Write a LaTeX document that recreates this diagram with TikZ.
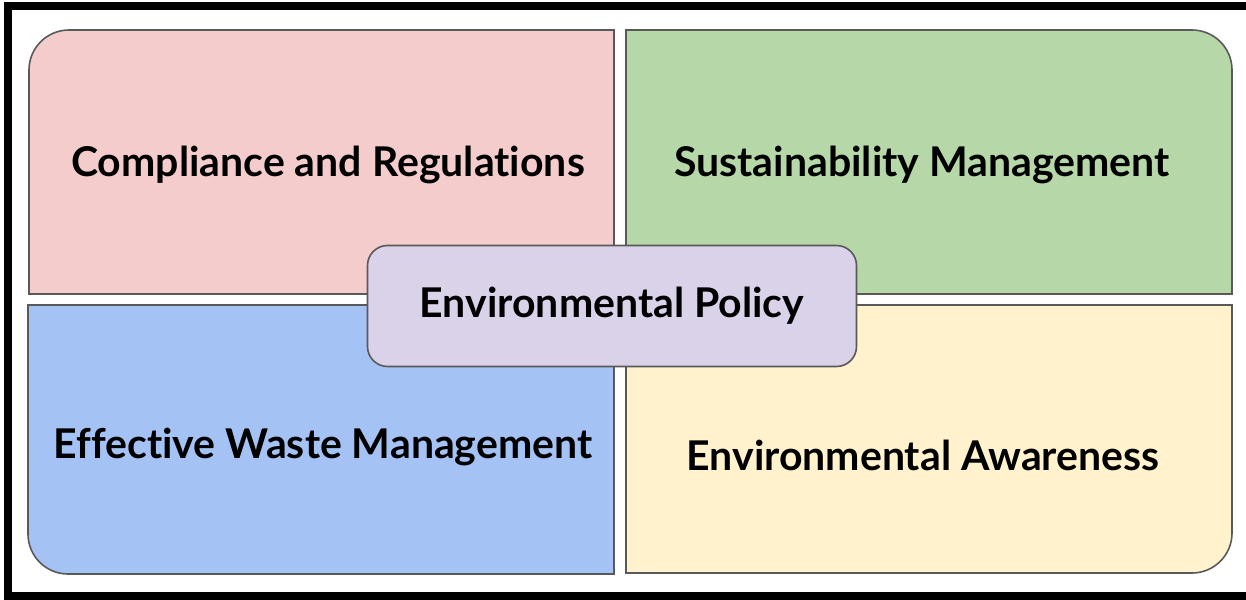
\documentclass[tikz,border=0pt]{standalone}
\usepackage{fontspec}
\setmainfont[Ligatures={NoCommon}]{Lato}
\usepackage{tikz}
\usetikzlibrary{positioning}

\definecolor{pinkq}{HTML}{F4CCCC}
\definecolor{greenq}{HTML}{B6D7A8}
\definecolor{blueq}{HTML}{A4C2F4}
\definecolor{yellowq}{HTML}{FFF2CC}
\definecolor{purpleq}{HTML}{D9D2E9}
\definecolor{edgeq}{HTML}{595959}

\begin{document}
\begin{tikzpicture}[x=1pt,y=-1pt,
  quad/.style={draw=edgeq,line width=1.6pt},
  label/.style={font=\fontsize{41}{45}\selectfont\bfseries,text=black}]
\useasboundingbox (0,0) rectangle (1246,599);
\draw[line width=8pt] (8,6) rectangle (1260,596);
% four quarters
\draw[quad,fill=pinkq] (29,294) [rounded corners=40pt] -- (29,30) [sharp corners] -- (614,30) -- (614,294) -- cycle;
\draw[quad,fill=greenq] (626,30) [rounded corners=40pt] -- (1232,30) [sharp corners] -- (1232,294) -- (626,294) -- cycle;
\draw[quad,fill=blueq] (614,574) [rounded corners=40pt] -- (28,574) [sharp corners] -- (28,305) -- (614,305) -- cycle;
\draw[quad,fill=yellowq] (1232,305) [rounded corners=40pt] -- (1232,573) [sharp corners] -- (626,573) -- (626,305) -- cycle;
\node[label](comp) at (328,165){Compliance and Regulations};
\node[label](sust) at (922,165){Sustainability Management};
\node[label](waste) at (323,447){Effective Waste Management};
\node[label](aware) at (923,455){Environmental Awareness};
% centre
\node[quad,fill=purpleq,rounded corners=20pt,minimum width=489pt,minimum height=121pt,label](policy) at (612,306){Environmental Policy};
\end{tikzpicture}
\end{document}
